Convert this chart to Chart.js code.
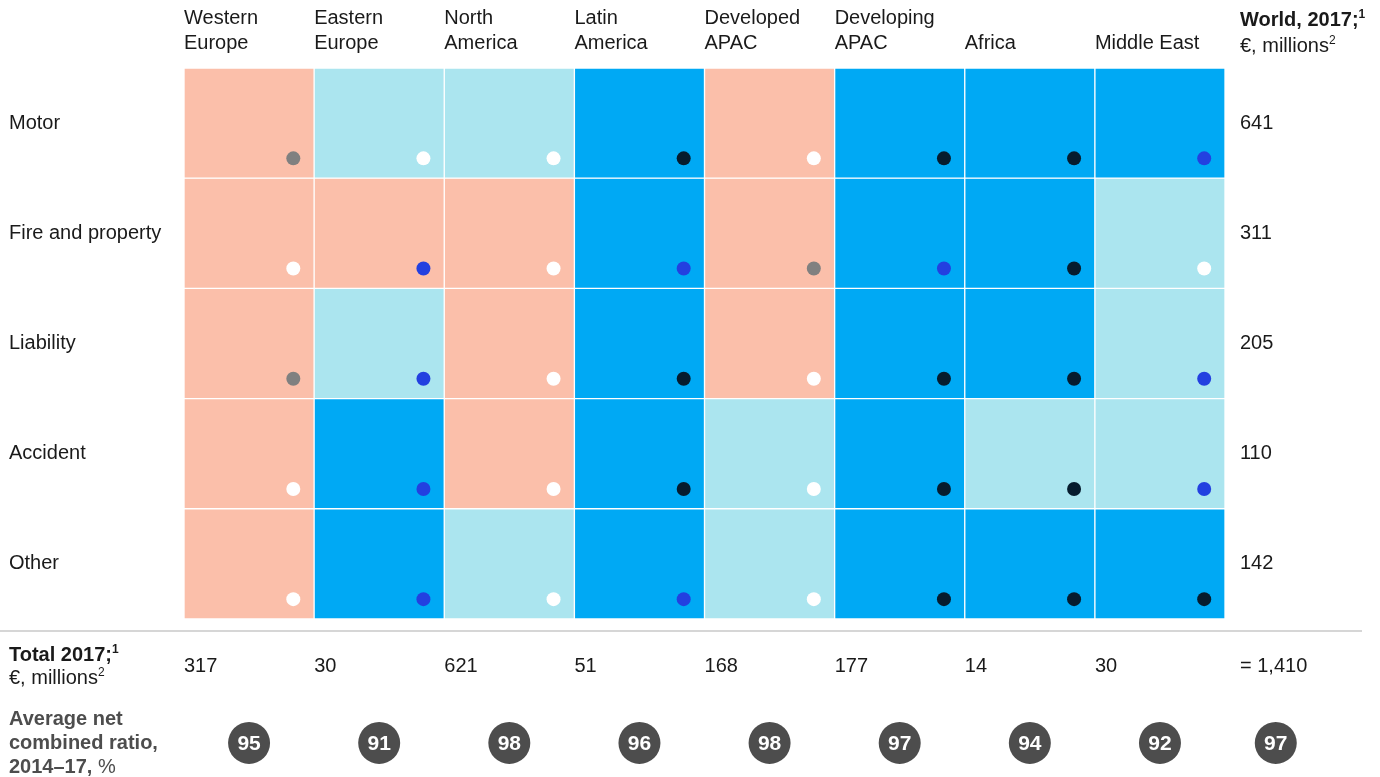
<!DOCTYPE html>
<html>
<head>
<meta charset="utf-8">
<script src="https://cdn.jsdelivr.net/npm/chart.js@4.4.1/dist/chart.umd.min.js"></script>
<style>
    body { margin: 0; background: #fff; font-family: "Liberation Sans", Arial, sans-serif; color: #1a1a1a; }
    #wrap { position: relative; width: 1380px; height: 777px; }
    #box { position: absolute; left: 0; top: 0; width: 1380px; height: 777px; }
    .note { position: absolute; font-size: 20px; line-height: 24px; white-space: nowrap; }
    .note sup { font-size: 12px; line-height: 0; vertical-align: 8px; }
    #rule { position: absolute; left: 0; top: 630px; width: 1362px; height: 2px; background: #d6d6d6; }
</style>
</head>
<body>
<div id="wrap">
    <div id="box"><canvas id="grafica"></canvas></div>
    <div id="rule"></div>
    <div class="note" style="left:1240px; top:6px; line-height:26px"><b>World, 2017;<sup>1</sup></b><br>€, millions<sup>2</sup></div>
    <div class="note" style="left:9px; top:643px; line-height:23px"><b>Total 2017;<sup>1</sup></b><br>€, millions<sup>2</sup></div>
    <div class="note" style="left:9px; top:706px; color:#4d4d4d"><b>Average net<br>combined ratio,<br>2014–17,</b> %</div>
</div>
<script>
const regions = [
    ["Western", "Europe"],
    ["Eastern", "Europe"],
    ["North", "America"],
    ["Latin", "America"],
    ["Developed", "APAC"],
    ["Developing", "APAC"],
    "Africa",
    "Middle East",
];
const lines = ["Motor", "Fire and property", "Liability", "Accident", "Other"];
const worldByLine = [641, 311, 205, 110, 142];
const totalByRegion = [317, 30, 621, 51, 168, 177, 14, 30];
const worldTotal = 1410;
const ratioByRegion = [95, 91, 98, 96, 98, 97, 94, 92];
const worldRatio = 97;

// cell shade, line x region: 0 = salmon, 1 = light blue, 2 = blue
const shade = [
    [0, 1, 1, 2, 0, 2, 2, 2],
    [0, 0, 0, 2, 0, 2, 2, 1],
    [0, 1, 0, 2, 0, 2, 2, 1],
    [0, 2, 0, 2, 1, 2, 1, 1],
    [0, 2, 1, 2, 1, 2, 2, 2],
];
// dot in the corner of each cell: 0 = white, 1 = grey, 2 = blue, 3 = navy
const dot = [
    [1, 0, 0, 3, 0, 3, 3, 2],
    [0, 2, 0, 2, 1, 2, 3, 0],
    [1, 2, 0, 3, 0, 3, 3, 2],
    [0, 2, 0, 3, 0, 3, 3, 2],
    [0, 2, 0, 2, 0, 3, 3, 3],
];

const SHADE_COLORS = ["#fbbfaa", "#abe5ef", "#00a9f4"];
const DOT_COLORS = ["#ffffff", "#808080", "#2340e0", "#061c2e"];

// layout in scale units: one column / one row = 1
const X_MAX = 9.191; // grid plus the world column on the right
const Y_MAX = 6.434;
const TOTAL_ROW = 5.435;
const RATIO_ROW = 6.125;
const DOT_DX = 0.84;
const DOT_DY = 0.82;
const WORLD_TEXT_X = 8.115;
const WORLD_X = 8.39;

Chart.defaults.font.family = "'Liberation Sans', Arial, sans-serif";
Chart.defaults.color = "#1a1a1a";

const cellDatasets = lines.map((line, r) => ({
    type: "bar",
    label: line,
    data: regions.map((_, c) => ({ x: c + 0.5, y: [r, r + 1] })),
    backgroundColor: shade[r].map((s) => SHADE_COLORS[s]),
    borderColor: "#ffffff",
    borderWidth: 1,
    borderSkipped: false,
    barPercentage: 1,
    categoryPercentage: 1,
    grouped: false,
    order: 3,
}));

const dotDataset = {
    type: "scatter",
    label: "dots",
    data: lines.flatMap((_, r) =>
        regions.map((_, c) => ({ x: c + DOT_DX, y: r + DOT_DY }))
    ),
    pointBackgroundColor: dot.flat().map((d) => DOT_COLORS[d]),
    pointBorderWidth: 0,
    pointRadius: 7,
    order: 1,
};

const ratioValues = [...ratioByRegion, worldRatio];
const ratioDataset = {
    type: "scatter",
    label: "ratio",
    data: ratioValues.map((v, c) => ({
        x: c < ratioByRegion.length ? c + 0.5 : WORLD_X,
        y: RATIO_ROW,
    })),
    pointBackgroundColor: "#4d4d4d",
    pointBorderWidth: 0,
    pointRadius: 21,
    order: 1,
};

// totals, world column figures and the numbers inside the circles
const textLayer = {
    id: "textLayer",
    afterDatasetsDraw(chart) {
        const { ctx } = chart;
        const x = chart.scales.x;
        const y = chart.scales.y;
        ctx.save();
        ctx.textBaseline = "middle";
        ctx.textAlign = "left";
        ctx.fillStyle = "#1a1a1a";
        ctx.font = "20px 'Liberation Sans', Arial, sans-serif";
        totalByRegion.forEach((t, c) => {
            ctx.fillText(String(t), x.getPixelForValue(c), y.getPixelForValue(TOTAL_ROW));
        });
        const wx = x.getPixelForValue(WORLD_TEXT_X);
        worldByLine.forEach((v, r) => {
            ctx.fillText(String(v), wx, y.getPixelForValue(r + 0.5));
        });
        ctx.fillText("= " + worldTotal.toLocaleString("en-US"), wx, y.getPixelForValue(TOTAL_ROW));

        const meta = chart.getDatasetMeta(chart.data.datasets.indexOf(ratioDataset));
        ctx.textAlign = "center";
        ctx.fillStyle = "#ffffff";
        ctx.font = "bold 21px 'Liberation Sans', Arial, sans-serif";
        meta.data.forEach((pt, i) => {
            ctx.fillText(String(ratioValues[i]), pt.x, pt.y + 1);
        });
        ctx.restore();
    },
};

const tickFont = { size: 20, lineHeight: 1.25 };

// fixed axis sizes, and no extra room for the outer tick labels
const fixSize = (size) => (s) => {
    if (s.isHorizontal()) s.height = size;
    else s.width = size;
    s.paddingLeft = 0;
    s.paddingRight = 0;
    s.paddingTop = 0;
    s.paddingBottom = 0;
};

new Chart(document.getElementById("grafica"), {
    type: "bar",
    data: { datasets: [...cellDatasets, dotDataset, ratioDataset] },
    plugins: [textLayer],
    options: {
        responsive: true,
        maintainAspectRatio: false,
        animation: false,
        events: [],
        layout: { autoPadding: false, padding: { left: 9, right: 0, top: 0, bottom: 0 } },
        plugins: {
            legend: { display: false },
            tooltip: { enabled: false },
        },
        scales: {
            x: {
                type: "linear",
                position: "top",
                offset: false,
                min: 0,
                max: X_MAX,
                grid: { display: false, drawTicks: false, offset: false },
                border: { display: false },
                afterBuildTicks: (s) => {
                    s.ticks = regions.map((_, i) => ({ value: i }));
                },
                afterFit: fixSize(68),
                ticks: {
                    callback: (v, i) => regions[i],
                    align: "start",
                    crossAlign: "near",
                    padding: 12,
                    maxRotation: 0,
                    autoSkip: false,
                    font: tickFont,
                },
            },
            y: {
                type: "linear",
                reverse: true,
                min: 0,
                max: Y_MAX,
                grid: { display: false, drawTicks: false },
                border: { display: false },
                afterBuildTicks: (s) => {
                    s.ticks = lines.map((_, i) => ({ value: i + 0.5 }));
                },
                afterFit: fixSize(175),
                ticks: {
                    callback: (v, i) => lines[i],
                    crossAlign: "far",
                    autoSkip: false,
                    font: tickFont,
                },
            },
        },
    },
});
</script>
</body>
</html>
